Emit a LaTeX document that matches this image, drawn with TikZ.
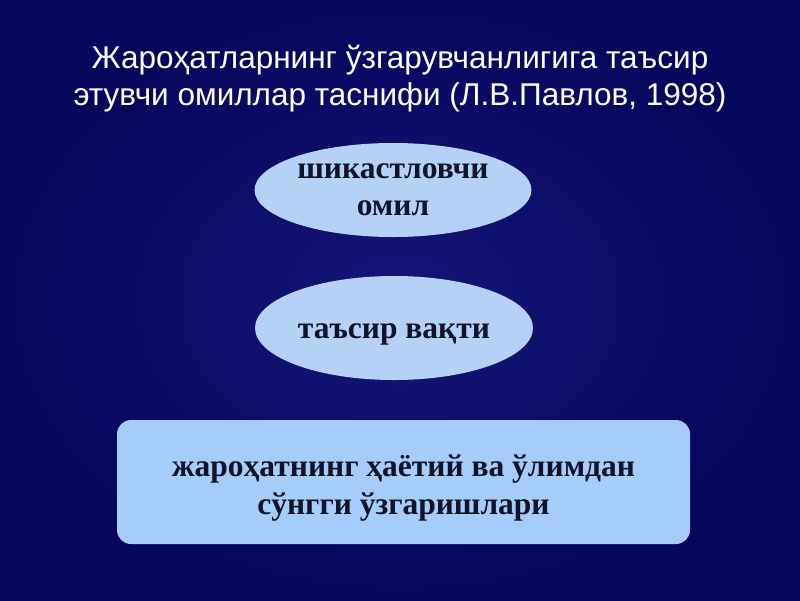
\documentclass[tikz,border=0pt]{standalone}
\usepackage{fontspec}
\setmainfont{Liberation Serif}
\newfontfamily\titlefont{Liberation Sans}
\usetikzlibrary{shapes.geometric}
\definecolor{bgin}{RGB}{22,22,122}
\definecolor{bgout}{RGB}{6,6,92}
\definecolor{ellfill}{RGB}{182,209,246}
\definecolor{boxfill}{RGB}{166,204,249}
\definecolor{inktext}{RGB}{16,20,40}
\tikzset{
  titletext/.style={text=white, align=center, inner sep=0pt,
    font=\titlefont\fontsize{31.5}{37}\selectfont},
  ovalbox/.style={ellipse, fill=ellfill, inner sep=0pt, align=center,
    text=inktext, font=\bfseries\fontsize{31.5}{37}\selectfont},
  roundbox/.style={rectangle, rounded corners=14pt, fill=boxfill, inner sep=0pt,
    align=center, text=inktext, font=\bfseries\fontsize{31.5}{38}\selectfont}
}
\begin{document}
\begin{tikzpicture}[x=1pt,y=-1pt]
\shade[inner color=bgin, outer color=bgout] (0,0) rectangle (800,600);
\useasboundingbox (0,0) rectangle (800,600);
\node[titletext] (title) at (400,79) {Жароҳатларнинг ўзгарувчанлигига таъсир\\этувчи омиллар таснифи (Л.В.Павлов, 1998)};
\node[ovalbox, minimum width=277pt, minimum height=94pt] (factor) at (393,190) {шикастловчи\\омил};
\node[ovalbox, minimum width=278pt, minimum height=104pt] (time) at (394,328) {\raisebox{-10pt}[0pt][0pt]{таъсир вақти}};
\node[roundbox, minimum width=573pt, minimum height=124pt] (changes) at (403.5,482) {\raisebox{-12pt}[0pt][0pt]{\begin{tabular}{@{}c@{}}жароҳатнинг ҳаётий ва ўлимдан\\сўнгги ўзгаришлари\end{tabular}}};
\end{tikzpicture}
\end{document}
